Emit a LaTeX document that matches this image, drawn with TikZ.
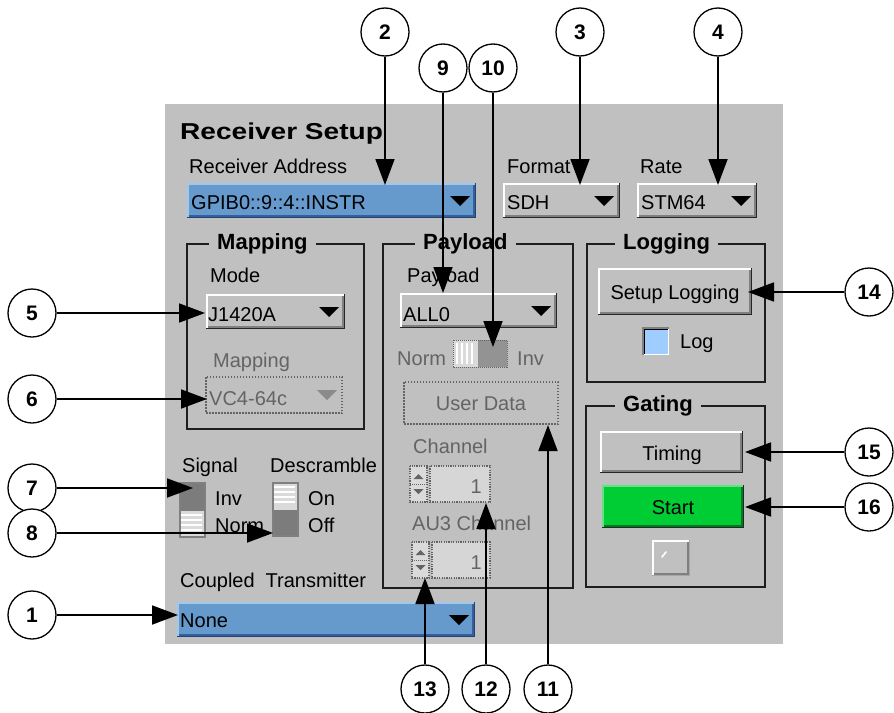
\documentclass[tikz,border=0pt]{standalone}
\usepackage{fontspec}
\setmainfont{Liberation Sans}
\usetikzlibrary{arrows.meta}

\definecolor{panel}{RGB}{192,192,192}
\definecolor{ddblue}{RGB}{102,153,204}
\definecolor{ddbluelt}{RGB}{160,200,238}
\definecolor{ddbluedk}{RGB}{52,96,160}
\definecolor{uidark}{RGB}{128,128,128}
\definecolor{gogreen}{RGB}{0,204,51}
\definecolor{chkblue}{RGB}{160,205,255}
\definecolor{dimtext}{RGB}{100,100,100}
\definecolor{fieldgray}{RGB}{214,214,214}
\definecolor{stripe}{RGB}{218,218,218}
\definecolor{knobgray}{RGB}{124,124,124}
\definecolor{framecol}{RGB}{30,30,30}

% raised / flat 3D box: x1 y1 x2 y2 fill light dark outer
\newcommand\uibevel[8]{%
  \fill[#5] (#1,#2) rectangle (#3,#4);
  \draw[#6, line width=1.5pt] (#1+0.75,#4-1.5) -- (#1+0.75,#2+0.75) -- (#3-1.5,#2+0.75);
  \draw[#7, line width=1.5pt] (#1+1.5,#4-2.25) -- (#3-2.25,#4-2.25) -- (#3-2.25,#2+1.5);
  \draw[#8, line width=1.5pt] (#1,#4-0.75) -- (#3-0.75,#4-0.75) -- (#3-0.75,#2);
}
\newcommand\uiraised[5]{\uibevel{#1}{#2}{#3}{#4}{#5}{white}{uidark}{black!85}}
% sunken box: x1 y1 x2 y2 fill
\newcommand\uisunken[5]{%
  \fill[#5] (#1,#2) rectangle (#3,#4);
  \draw[uidark, line width=1.5pt] (#1+0.75,#4) -- (#1+0.75,#2+0.75) -- (#3,#2+0.75);
  \draw[black, line width=1.5pt] (#1+2.25,#4-1.5) -- (#1+2.25,#2+2.25) -- (#3-1.5,#2+2.25);
  \draw[white, line width=1.5pt] (#1+1.5,#4-0.75) -- (#3-0.75,#4-0.75) -- (#3-0.75,#2+1.5);
}
% drop-down triangle centred at x y
\newcommand\uitri[2]{\fill[black] (#1-10,#2-5) -- (#1+10,#2-5) -- (#1,#2+5) -- cycle;}
% disabled spinner: x1 y1 x2 y2
\newcommand\uispin[4]{%
  \fill[stripe] (#1,#2) rectangle (#1+17,#4);
  \draw[dimtext, line width=1.2pt, dash pattern=on 1.2pt off 1.2pt] (#1,#2) rectangle (#1+17,#4);
  \draw[dimtext, line width=1pt, dash pattern=on 1pt off 1pt] (#1,#2/2+#4/2) -- (#1+17,#2/2+#4/2);
  \fill[dimtext] (#1+3.5,#2/2+#4/2-5) -- (#1+13.5,#2/2+#4/2-5) -- (#1+8.5,#2/2+#4/2-10) -- cycle;
  \fill[dimtext] (#1+3.5,#2/2+#4/2+5) -- (#1+13.5,#2/2+#4/2+5) -- (#1+8.5,#2/2+#4/2+10) -- cycle;
  \fill[fieldgray] (#1+20,#2) rectangle (#3,#4);
  \draw[dimtext, line width=1.2pt, dash pattern=on 1.2pt off 1.2pt] (#1+20,#2) rectangle (#3,#4);
}

\begin{document}
\begin{tikzpicture}[x=1pt,y=-1pt,
  callout/.style={circle, draw=black, line width=1.3pt, fill=white,
    minimum size=48pt, inner sep=0pt, font=\fontsize{21}{21}\selectfont\bfseries},
  pointer/.style={line width=1.8pt, -{Triangle[length=26pt,width=19pt]}},
  uitext/.style={anchor=base west, inner sep=0pt, font=\fontsize{20}{24}\selectfont},
  dimlabel/.style={uitext, text=dimtext},
  btntext/.style={anchor=base, inner sep=0pt, font=\fontsize{20}{24}\selectfont},
  grouptitle/.style={anchor=west, fill=panel, inner xsep=8pt, inner ysep=0pt,
    font=\fontsize{22}{26}\selectfont\bfseries},
  groupframe/.style={draw=framecol, line width=1.6pt},
  dimframe/.style={draw=dimtext, line width=1.5pt, dash pattern=on 1.5pt off 1.5pt}]

\useasboundingbox (0,0) rectangle (894,712);
\fill[white] (0,0) rectangle (894,712);

% dialog background
\fill[panel] (165,104) rectangle (783,644);

% heading and top row of selectors
\node[anchor=base west, inner sep=0pt, font=\fontsize{23}{27}\selectfont\bfseries]
  (title) at (180,139) {\scalebox{1.22}[1]{Receiver Setup}};
\node[uitext] (lbladdr) at (189,173) {Receiver Address};
\node[uitext] (lblfmt) at (507,173) {Format};
\node[uitext] (lblrate) at (640,173) {Rate};

\uibevel{187}{183}{476}{218}{ddblue}{ddbluelt}{ddbluedk}{ddbluedk!70!black}
\node[uitext] (addr) at (191,209) {GPIB0::9::4::INSTR};
\uitri{460}{201}

\uiraised{503}{183}{620}{218}{panel}
\node[uitext] (fmt) at (507,209) {SDH};
\uitri{604}{201}

\uiraised{637}{183}{757}{218}{panel}
\node[uitext] (rate) at (641,209) {STM64};
\uitri{741}{201}

% Mapping group
\draw[groupframe] (187,244) rectangle (364,429);
\node[grouptitle] (gmap) at (209,244) {Mapping};
\node[uitext] (lblmode) at (210,282) {Mode};
\uiraised{206}{294}{345}{329}{panel}
\node[uitext] (mode) at (208,321) {J1420A};
\uitri{329}{312}
\node[dimlabel] (lblmap) at (213,367) {Mapping};
\draw[dimframe] (206,377) rectangle (342,413);
\node[dimlabel] (map) at (209,405) {VC4-64c};
\fill[dimtext!75] (317,390) -- (337,390) -- (327,400) -- cycle;

% Payload group
\draw[groupframe] (383,244) rectangle (573,588);
\node[grouptitle] (gpay) at (415,244) {Payload};
\node[uitext] (lblpay) at (407,282) {Payload};
\uiraised{400}{293}{557}{328}{panel}
\node[uitext] (pay) at (403,321) {ALL0};
\uitri{541}{311}

\node[dimlabel] (lblnorm) at (397,365) {Norm};
\fill[stripe] (453,340) rectangle (478,367);
\foreach \xx in {457,462,467,472} \draw[white, line width=1.2pt] (\xx,343) -- (\xx,364);
\fill[uidark!85] (478,340) rectangle (507,367);
\draw[dimtext, line width=1pt, dash pattern=on 1pt off 1pt] (453,340) rectangle (507,367);
\node[dimlabel] (lblinv) at (517,365) {Inv};

\draw[dimframe] (404,382) rectangle (558,424);
\node[btntext, text=dimtext] (userdata) at (481,410) {User Data};

\node[dimlabel] (lblchan) at (413,453) {Channel};
\uispin{410}{466}{490}{502}
\node[anchor=base east, inner sep=0pt, font=\fontsize{20}{24}\selectfont, text=dimtext] (chan) at (482,493) {1};

\node[dimlabel] (lblau3) at (412,530) {AU3 Channel};
\uispin{412}{542}{490}{578}
\node[anchor=base east, inner sep=0pt, font=\fontsize{20}{24}\selectfont, text=dimtext] (au3) at (482,569) {1};

% Logging group
\draw[groupframe] (587,244) rectangle (765,382);
\node[grouptitle] (glog) at (615,244) {Logging};
\uiraised{598}{268}{752}{315}{panel}
\node[btntext] (setuplog) at (675,299) {Setup Logging};
\uisunken{642}{327}{669}{355}{chkblue}
\node[uitext] (lbllog) at (680,348) {Log};

% Gating group
\draw[groupframe] (586,406) rectangle (765,587);
\node[grouptitle] (ggate) at (615,406) {Gating};
\uiraised{600}{431}{743}{473}{panel}
\node[btntext] (timing) at (672,460) {Timing};
\uibevel{602}{485}{744}{528}{gogreen}{gogreen!60!white}{gogreen!60!black}{black!85}
\node[btntext] (start) at (673,514) {Start};
\uibevel{652}{540}{690}{576}{panel}{white}{uidark}{uidark!70!white}
\draw[white, line width=1.6pt, line cap=round] (662,557) -- (666,552);

% Signal / Descramble toggles
\node[uitext] (lblsig) at (182,472) {Signal};
\node[uitext] (lbldes) at (270,472) {Descramble};
\fill[knobgray] (180,483) rectangle (205,511);
\fill[stripe] (180,511) rectangle (205,537);
\foreach \yy in {515,520,525,530} \draw[white, line width=1.5pt] (181,\yy) -- (202,\yy);
\draw[uidark, line width=1.2pt] (180,483) rectangle (205,537);
\node[uitext] (sinv) at (215,505) {Inv};
\node[uitext] (snorm) at (215,532) {Norm};

\fill[stripe] (273,483) rectangle (298,510);
\foreach \yy in {487,492,497,502} \draw[white, line width=1.5pt] (274,\yy) -- (295,\yy);
\fill[knobgray] (273,510) rectangle (298,536);
\draw[uidark, line width=1.2pt] (273,483) rectangle (298,536);
\node[uitext] (don) at (308,505) {On};
\node[uitext] (doff) at (308,532) {Off};

% Coupled transmitter selector
\node[uitext] (lblcpl) at (180,587) {Coupled\hspace{11pt}Transmitter};
\uibevel{177}{602}{475}{637}{ddblue}{ddbluelt}{ddbluedk}{ddbluedk!70!black}
\node[uitext] (cpl) at (180,627) {None};
\uitri{459}{620}

% numbered callouts
\node[callout] (c2) at (385,32) {2};
\node[callout] (c3) at (580,32) {3};
\node[callout] (c4) at (718,32) {4};
\node[callout] (c9) at (443,68) {9};
\node[callout] (c10) at (493,68) {10};
\node[callout] (c5) at (32,313) {5};
\node[callout] (c6) at (32,399) {6};
\node[callout] (c7) at (32,488) {7};
\node[callout] (c8) at (32,533) {8};
\node[callout] (c1) at (32,615) {1};
\node[callout] (c14) at (869,292) {14};
\node[callout] (c15) at (869,452) {15};
\node[callout] (c16) at (869,507) {16};
\node[callout] (c13) at (425,689) {13};
\node[callout] (c12) at (486,689) {12};
\node[callout] (c11) at (548,689) {11};

% pointer targets
\coordinate (t1) at (178,615);
\coordinate (t2) at (385,185);
\coordinate (t3) at (580,185);
\coordinate (t4) at (718,185);
\coordinate (t5) at (205,313);
\coordinate (t6) at (207,399);
\coordinate (t7) at (193,488);
\coordinate (t8) at (273,533);
\coordinate (t9) at (443,293);
\coordinate (t10) at (493,347);
\coordinate (t11) at (548,425);
\coordinate (t12) at (486,503);
\coordinate (t13) at (425,578);
\coordinate (t14) at (748,292);
\coordinate (t15) at (745,452);
\coordinate (t16) at (745,507);

\foreach \k in {1,...,16} \draw[pointer] (c\k) -- (t\k);

\end{tikzpicture}
\end{document}
